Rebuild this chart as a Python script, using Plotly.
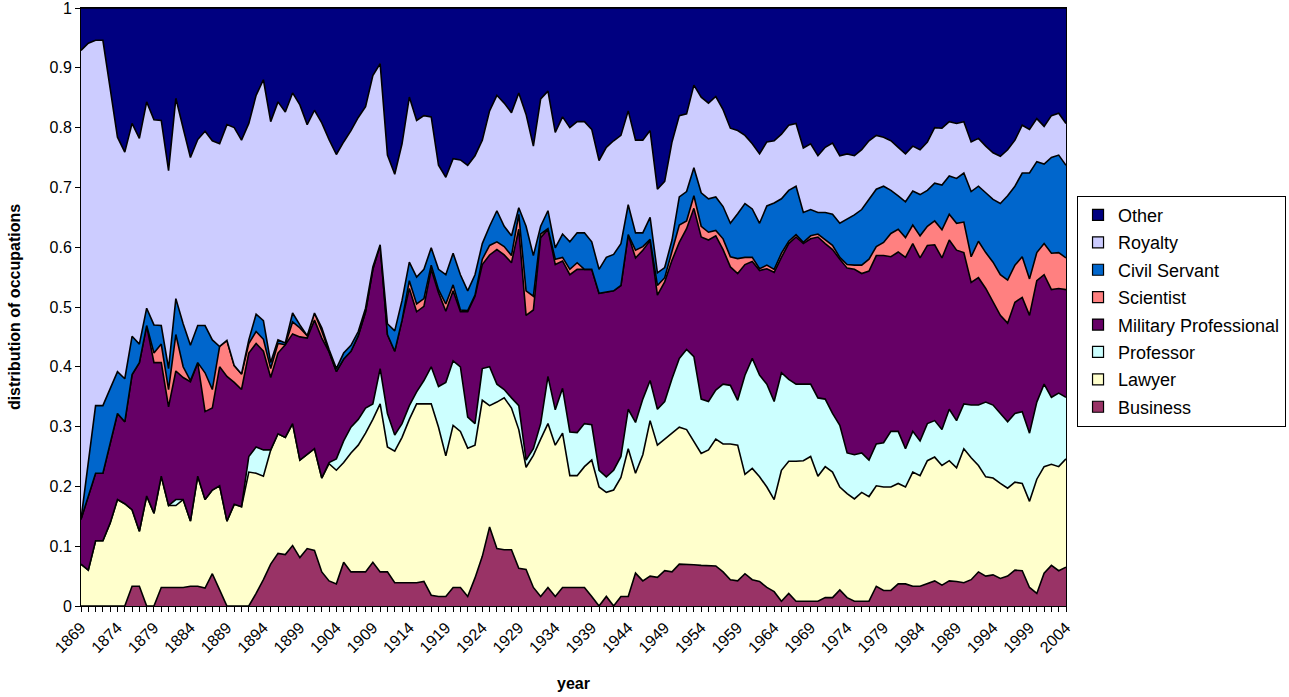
import numpy as np
import plotly.graph_objects as go

years = list(range(1869, 2005))
tick_years = list(range(1869, 2005, 5))

# Cumulative upper edge of each band (stacked share)
business_top = [
    0, 0, 0, 0, 0, 0, 0, 0.033, 0.033, 0,
    0, 0.031, 0.031, 0.031, 0.031, 0.033, 0.033, 0.030, 0.054, 0.027,
    0, 0, 0, 0, 0.021, 0.044, 0.070, 0.088, 0.086, 0.101,
    0.081, 0.096, 0.093, 0.057, 0.042, 0.037, 0.073, 0.057, 0.057, 0.057,
    0.073, 0.057, 0.057, 0.039, 0.039, 0.039, 0.039, 0.041, 0.018, 0.016,
    0.016, 0.031, 0.031, 0.016, 0.047, 0.083, 0.132, 0.096, 0.094, 0.094,
    0.063, 0.061, 0.031, 0.016, 0.031, 0.016, 0.031, 0.031, 0.031, 0.031,
    0.016, 0, 0.016, 0, 0.016, 0.016, 0.055, 0.042, 0.050, 0.048,
    0.059, 0.057, 0.070, 0.070, 0.069, 0.068, 0.067, 0.067, 0.057, 0.044,
    0.042, 0.054, 0.044, 0.041, 0.031, 0.024, 0.008, 0.021, 0.008, 0.008,
    0.008, 0.008, 0.014, 0.014, 0.027, 0.014, 0.008, 0.008, 0.008, 0.033,
    0.026, 0.026, 0.037, 0.037, 0.033, 0.033, 0.037, 0.042, 0.035, 0.042,
    0.041, 0.039, 0.044, 0.057, 0.050, 0.052, 0.046, 0.050, 0.060, 0.059,
    0.031, 0.021, 0.055, 0.068, 0.059, 0.065]

lawyer_top = [
    0.070, 0.060, 0.109, 0.109, 0.139, 0.178, 0.171, 0.161, 0.125, 0.184,
    0.155, 0.217, 0.168, 0.168, 0.178, 0.142, 0.217, 0.178, 0.194, 0.201,
    0.142, 0.170, 0.166, 0.224, 0.222, 0.217, 0.261, 0.288, 0.282, 0.305,
    0.244, 0.253, 0.263, 0.214, 0.238, 0.227, 0.240, 0.256, 0.269, 0.289,
    0.312, 0.338, 0.266, 0.259, 0.282, 0.312, 0.338, 0.338, 0.338, 0.299,
    0.251, 0.302, 0.292, 0.264, 0.269, 0.344, 0.335, 0.341, 0.348, 0.331,
    0.295, 0.232, 0.252, 0.279, 0.305, 0.269, 0.289, 0.218, 0.218, 0.233,
    0.244, 0.199, 0.190, 0.194, 0.215, 0.263, 0.222, 0.253, 0.310, 0.269,
    0.279, 0.290, 0.299, 0.295, 0.275, 0.255, 0.261, 0.279, 0.271, 0.271,
    0.269, 0.220, 0.230, 0.216, 0.199, 0.178, 0.227, 0.242, 0.242, 0.243,
    0.250, 0.217, 0.233, 0.224, 0.199, 0.188, 0.179, 0.190, 0.183, 0.201,
    0.199, 0.199, 0.205, 0.199, 0.224, 0.218, 0.243, 0.249, 0.235, 0.243,
    0.231, 0.263, 0.248, 0.235, 0.216, 0.214, 0.205, 0.197, 0.207, 0.205,
    0.175, 0.212, 0.233, 0.237, 0.233, 0.246]

professor_top = [
    0.070, 0.060, 0.109, 0.109, 0.139, 0.178, 0.171, 0.161, 0.125, 0.184,
    0.155, 0.217, 0.168, 0.178, 0.178, 0.142, 0.217, 0.178, 0.194, 0.201,
    0.142, 0.170, 0.166, 0.250, 0.266, 0.261, 0.261, 0.288, 0.282, 0.305,
    0.244, 0.253, 0.263, 0.214, 0.240, 0.246, 0.276, 0.299, 0.312, 0.331,
    0.338, 0.397, 0.322, 0.286, 0.305, 0.335, 0.358, 0.377, 0.400, 0.367,
    0.374, 0.410, 0.400, 0.316, 0.305, 0.397, 0.400, 0.371, 0.362, 0.348,
    0.335, 0.244, 0.263, 0.305, 0.384, 0.328, 0.364, 0.291, 0.290, 0.305,
    0.303, 0.227, 0.216, 0.227, 0.250, 0.329, 0.307, 0.346, 0.377, 0.329,
    0.342, 0.380, 0.414, 0.429, 0.417, 0.346, 0.342, 0.361, 0.371, 0.369,
    0.344, 0.386, 0.414, 0.386, 0.371, 0.342, 0.390, 0.379, 0.371, 0.371,
    0.371, 0.348, 0.346, 0.322, 0.302, 0.256, 0.253, 0.256, 0.244, 0.271,
    0.273, 0.292, 0.292, 0.263, 0.292, 0.276, 0.305, 0.310, 0.295, 0.329,
    0.310, 0.338, 0.336, 0.336, 0.341, 0.336, 0.322, 0.308, 0.322, 0.325,
    0.289, 0.341, 0.371, 0.349, 0.356, 0.349]

military_top = [
    0.145, 0.184, 0.222, 0.222, 0.273, 0.322, 0.308, 0.387, 0.407, 0.469,
    0.407, 0.407, 0.333, 0.393, 0.382, 0.375, 0.407, 0.325, 0.331, 0.400,
    0.384, 0.374, 0.362, 0.423, 0.439, 0.426, 0.382, 0.423, 0.437, 0.455,
    0.450, 0.448, 0.478, 0.448, 0.425, 0.392, 0.413, 0.426, 0.452, 0.492,
    0.563, 0.604, 0.454, 0.426, 0.478, 0.531, 0.492, 0.501, 0.563, 0.524,
    0.493, 0.527, 0.492, 0.492, 0.518, 0.571, 0.587, 0.596, 0.587, 0.574,
    0.630, 0.486, 0.495, 0.616, 0.630, 0.571, 0.577, 0.554, 0.563, 0.563,
    0.563, 0.523, 0.525, 0.527, 0.536, 0.621, 0.582, 0.595, 0.611, 0.520,
    0.542, 0.578, 0.608, 0.631, 0.665, 0.617, 0.612, 0.619, 0.596, 0.567,
    0.556, 0.571, 0.576, 0.561, 0.564, 0.558, 0.583, 0.606, 0.617, 0.606,
    0.614, 0.617, 0.606, 0.596, 0.580, 0.565, 0.563, 0.556, 0.560, 0.586,
    0.586, 0.584, 0.592, 0.583, 0.606, 0.582, 0.603, 0.604, 0.582, 0.612,
    0.595, 0.591, 0.541, 0.549, 0.531, 0.508, 0.486, 0.473, 0.508, 0.516,
    0.486, 0.544, 0.554, 0.529, 0.531, 0.529]

scientist_top = [
    0.145, 0.184, 0.222, 0.222, 0.273, 0.322, 0.308, 0.387, 0.407, 0.469,
    0.423, 0.438, 0.362, 0.454, 0.400, 0.377, 0.407, 0.390, 0.362, 0.434,
    0.444, 0.402, 0.388, 0.439, 0.459, 0.446, 0.397, 0.439, 0.437, 0.475,
    0.465, 0.452, 0.490, 0.460, 0.425, 0.392, 0.413, 0.426, 0.452, 0.492,
    0.563, 0.604, 0.454, 0.426, 0.478, 0.544, 0.505, 0.514, 0.570, 0.529,
    0.505, 0.537, 0.495, 0.494, 0.520, 0.580, 0.603, 0.609, 0.601, 0.586,
    0.655, 0.527, 0.518, 0.622, 0.631, 0.580, 0.583, 0.563, 0.574, 0.563,
    0.563, 0.523, 0.525, 0.527, 0.536, 0.621, 0.595, 0.601, 0.613, 0.536,
    0.549, 0.595, 0.637, 0.644, 0.686, 0.635, 0.625, 0.628, 0.614, 0.584,
    0.581, 0.583, 0.583, 0.564, 0.570, 0.563, 0.590, 0.610, 0.621, 0.608,
    0.619, 0.622, 0.612, 0.603, 0.583, 0.571, 0.570, 0.570, 0.580, 0.601,
    0.608, 0.623, 0.630, 0.616, 0.637, 0.619, 0.635, 0.644, 0.629, 0.655,
    0.640, 0.642, 0.584, 0.610, 0.591, 0.575, 0.554, 0.545, 0.570, 0.584,
    0.547, 0.591, 0.606, 0.590, 0.591, 0.582]

civil_top = [
    0.145, 0.240, 0.335, 0.335, 0.364, 0.392, 0.380, 0.451, 0.438, 0.498,
    0.470, 0.469, 0.397, 0.514, 0.472, 0.436, 0.469, 0.469, 0.445, 0.434,
    0.444, 0.402, 0.388, 0.445, 0.488, 0.477, 0.407, 0.445, 0.440, 0.490,
    0.470, 0.452, 0.490, 0.465, 0.429, 0.397, 0.423, 0.436, 0.459, 0.498,
    0.567, 0.604, 0.472, 0.460, 0.511, 0.575, 0.550, 0.563, 0.599, 0.563,
    0.554, 0.590, 0.554, 0.527, 0.554, 0.606, 0.635, 0.661, 0.635, 0.619,
    0.666, 0.635, 0.586, 0.635, 0.661, 0.599, 0.622, 0.609, 0.624, 0.624,
    0.609, 0.563, 0.583, 0.588, 0.606, 0.671, 0.624, 0.624, 0.650, 0.557,
    0.566, 0.612, 0.684, 0.693, 0.733, 0.691, 0.681, 0.684, 0.668, 0.640,
    0.656, 0.673, 0.664, 0.640, 0.669, 0.674, 0.681, 0.695, 0.702, 0.658,
    0.663, 0.658, 0.658, 0.655, 0.640, 0.647, 0.654, 0.663, 0.680, 0.697,
    0.702, 0.695, 0.686, 0.676, 0.694, 0.688, 0.695, 0.707, 0.704, 0.719,
    0.715, 0.724, 0.693, 0.702, 0.691, 0.680, 0.673, 0.686, 0.702, 0.724,
    0.724, 0.743, 0.739, 0.750, 0.754, 0.737]

royalty_top = [
    0.929, 0.941, 0.946, 0.946, 0.865, 0.784, 0.759, 0.807, 0.782, 0.843,
    0.813, 0.812, 0.728, 0.849, 0.799, 0.750, 0.780, 0.794, 0.778, 0.773,
    0.805, 0.800, 0.779, 0.807, 0.854, 0.880, 0.810, 0.843, 0.826, 0.858,
    0.838, 0.805, 0.829, 0.808, 0.780, 0.755, 0.776, 0.795, 0.817, 0.835,
    0.887, 0.907, 0.754, 0.722, 0.773, 0.851, 0.812, 0.820, 0.818, 0.737,
    0.717, 0.748, 0.746, 0.737, 0.753, 0.779, 0.828, 0.854, 0.841, 0.825,
    0.858, 0.822, 0.769, 0.848, 0.861, 0.792, 0.818, 0.800, 0.810, 0.810,
    0.797, 0.745, 0.767, 0.778, 0.787, 0.828, 0.779, 0.779, 0.795, 0.697,
    0.710, 0.776, 0.820, 0.823, 0.871, 0.851, 0.841, 0.852, 0.830, 0.799,
    0.795, 0.787, 0.773, 0.756, 0.776, 0.778, 0.789, 0.804, 0.807, 0.766,
    0.773, 0.753, 0.767, 0.774, 0.753, 0.756, 0.753, 0.763, 0.778, 0.787,
    0.784, 0.778, 0.767, 0.756, 0.769, 0.763, 0.776, 0.800, 0.799, 0.810,
    0.807, 0.810, 0.776, 0.782, 0.769, 0.758, 0.752, 0.763, 0.779, 0.804,
    0.797, 0.815, 0.802, 0.820, 0.824, 0.807]

other_top = [1.0] * len(years)

series_names = ["Business", "Lawyer", "Professor", "Military Professional",
                "Scientist", "Civil Servant", "Royalty", "Other"]
series_colors = ["#993366", "#FFFFCC", "#CCFFFF", "#660066",
                 "#FF8080", "#0066CC", "#CCCCFF", "#000080"]
series_levels = [business_top, lawyer_top, professor_top, military_top,
                 scientist_top, civil_top, royalty_top, other_top]

FONT = "Liberation Sans, Arial, sans-serif"

fig = go.Figure()
prev = np.zeros(len(years))
for name, col, lev in zip(series_names, series_colors, series_levels):
    lev = np.array(lev, dtype=float)
    share = np.clip(lev - prev, 0, None)
    prev = lev
    fig.add_trace(go.Scatter(
        x=years, y=share, name=name, mode="lines", stackgroup="one",
        line=dict(color="black", width=1.6), fillcolor=col,
        showlegend=False, hoverinfo="x+y+name"))

# legend entries (Excel-style square swatches), top to bottom
for name, col in reversed(list(zip(series_names, series_colors))):
    fig.add_trace(go.Scatter(
        x=[None], y=[None], name=name, mode="markers",
        marker=dict(symbol="square", size=11, color=col,
                    line=dict(color="black", width=1.2)),
        legendgroup=name, showlegend=True))

yt = [round(v * 0.1, 1) for v in range(11)]
fig.update_layout(
    width=1289, height=697,
    margin=dict(l=81, r=223, t=8, b=91, autoexpand=False),
    paper_bgcolor="white", plot_bgcolor="white",
    font=dict(family=FONT, size=16, color="black"),
    showlegend=True,
    legend=dict(x=1.0112, xanchor="left", y=0.686, yanchor="top",
                bordercolor="black", borderwidth=1, bgcolor="rgba(0,0,0,0)",
                font=dict(size=18, family=FONT), traceorder="grouped",
                itemwidth=30, tracegroupgap=1),
    xaxis=dict(range=[1869, 2004], tickmode="array", tickvals=tick_years,
               ticktext=[str(y) for y in tick_years], tickangle=-45,
               tickfont=dict(size=16), ticklabeloverflow="allow",
               ticks="outside", ticklen=5, tickcolor="black",
               showline=True, linecolor="black", linewidth=1, mirror=True,
               showgrid=False, zeroline=False, automargin=False,
               minor=dict(tickmode="linear", tick0=1869, dtick=1,
                          ticks="outside", ticklen=5, tickcolor="black",
                          showgrid=False),
               title=dict(text="<b>year</b>", font=dict(size=16), standoff=22)),
    yaxis=dict(range=[0, 1], tickmode="array", tickvals=yt,
               ticktext=[("%g" % v) for v in yt], tickfont=dict(size=16),
               ticklabeloverflow="allow",
               ticks="outside", ticklen=5, tickcolor="black",
               showline=True, linecolor="black", linewidth=1, mirror=True,
               showgrid=False, zeroline=False, automargin=False,
               title=dict(text="<b>distribution of occupations</b>",
                          font=dict(size=16), standoff=24)),
)

fig.write_html("out.html", config={"displayModeBar": False},
               post_script="document.body.style.margin='0';")
